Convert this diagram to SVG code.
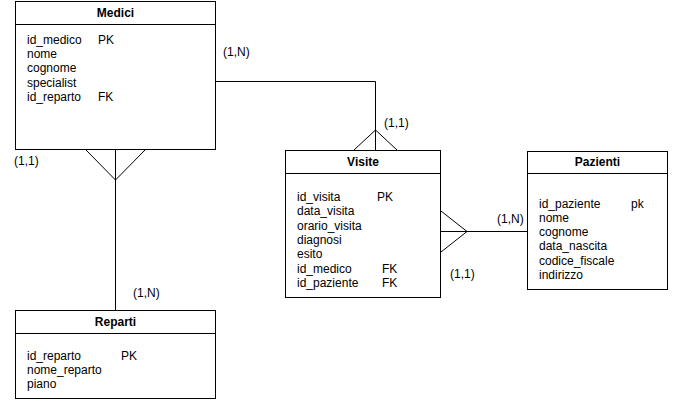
<svg xmlns="http://www.w3.org/2000/svg" width="678" height="401" viewBox="0 0 678 401">
<style>
.box{fill:#fff;stroke:#000;stroke-width:1}
.sep{stroke:#000;stroke-width:1}
text{font-family:"Liberation Sans",Arial,sans-serif;font-size:12px;fill:#000}
.t{font-weight:bold;text-anchor:middle}
.c{fill:none;stroke:#000;stroke-width:1}
</style>
<rect width="678" height="401" fill="#fff"/>
<g id="connectors">
<path class="c" d="M115.5,150 V310"/>
<path class="c" d="M86,150 L115.5,180 L145,150"/>
<path class="c" d="M215,81.5 H375.5 V150"/>
<path class="c" d="M354,150 L375.5,130 L397,150"/>
<path class="c" d="M441,231.5 H527"/>
<path class="c" d="M441,211 L467,231.5 L441,252"/>
<text x="223" y="56">(1,N)</text>
<text x="384" y="127">(1,1)</text>
<text x="14" y="165">(1,1)</text>
<text x="133" y="297">(1,N)</text>
<text x="497" y="223">(1,N)</text>
<text x="450" y="278">(1,1)</text>
</g>
<g id="medici">
<rect class="box" x="15.5" y="1.5" width="200" height="148"/>
<line class="sep" x1="15.5" y1="24.5" x2="215.5" y2="24.5"/>
<text class="t" x="115.5" y="16.5">Medici</text>
<text x="27" y="43.5">id_medico</text><text x="98" y="43.5">PK</text>
<text x="27" y="58">nome</text>
<text x="27" y="72.3">cognome</text>
<text x="27" y="86.6">specialist</text>
<text x="27" y="101">id_reparto</text><text x="98" y="101">FK</text>
</g>
<g id="reparti">
<rect class="box" x="15.5" y="310.5" width="200" height="88"/>
<line class="sep" x1="15.5" y1="333.5" x2="215.5" y2="333.5"/>
<text class="t" x="115.5" y="326">Reparti</text>
<text x="27" y="359.5">id_reparto</text><text x="121" y="359.5">PK</text>
<text x="27" y="373.8">nome_reparto</text>
<text x="27" y="388">piano</text>
</g>
<g id="visite">
<rect class="box" x="285.5" y="150.5" width="155" height="147"/>
<line class="sep" x1="285.5" y1="173.5" x2="440.5" y2="173.5"/>
<text class="t" x="363" y="166">Visite</text>
<text x="297" y="201">id_visita</text><text x="377" y="201">PK</text>
<text x="297" y="215.3">data_visita</text>
<text x="297" y="229.6">orario_visita</text>
<text x="297" y="243.9">diagnosi</text>
<text x="297" y="258.2">esito</text>
<text x="297" y="272.5">id_medico</text><text x="382" y="272.5">FK</text>
<text x="297" y="286.8">id_paziente</text><text x="382" y="286.8">FK</text>
</g>
<g id="pazienti">
<rect class="box" x="527.5" y="151.5" width="140" height="138"/>
<line class="sep" x1="527.5" y1="173.5" x2="667.5" y2="173.5"/>
<text class="t" x="597.5" y="166">Pazienti</text>
<text x="539" y="207.5">id_paziente</text><text x="631" y="207.5">pk</text>
<text x="539" y="221.8">nome</text>
<text x="539" y="236.1">cognome</text>
<text x="539" y="250.4">data_nascita</text>
<text x="539" y="264.7">codice_fiscale</text>
<text x="539" y="279">indirizzo</text>
</g>
</svg>
